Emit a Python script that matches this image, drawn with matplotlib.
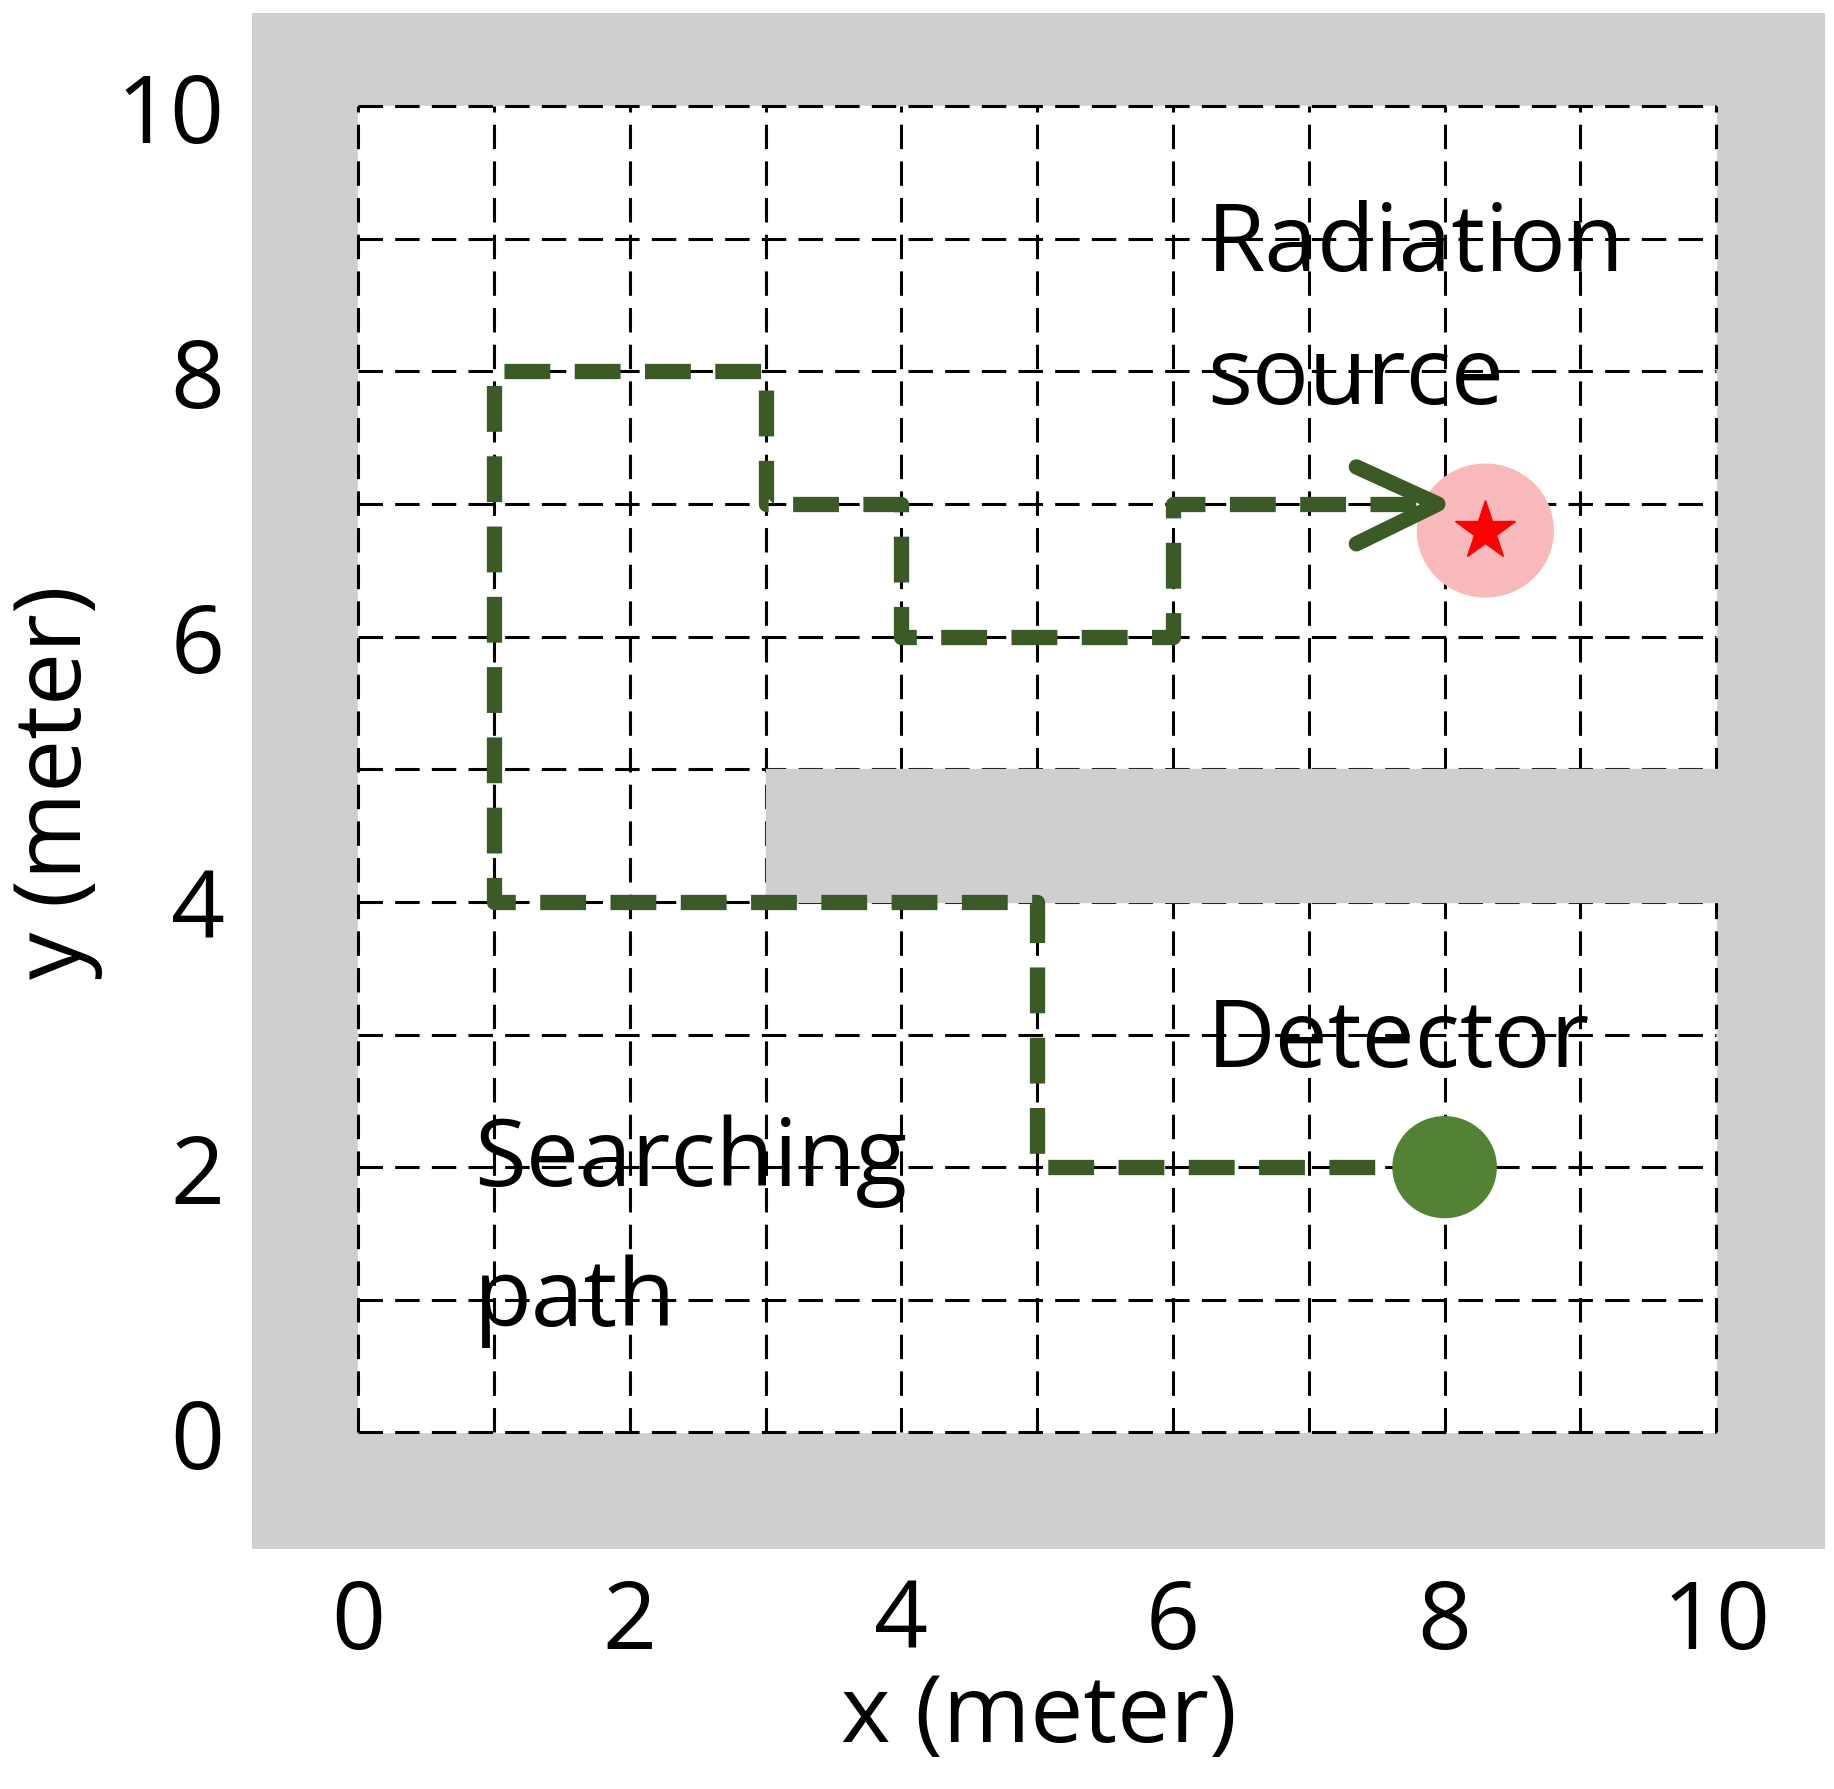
import matplotlib
matplotlib.use("Agg")
import matplotlib.pyplot as plt
from matplotlib.patches import Rectangle, Circle

path_x = [8, 5, 5, 1, 1, 3, 3, 4, 4, 6, 6, 8]
path_y = [2, 2, 4, 4, 8, 8, 7, 7, 6, 6, 7, 7]
head_x = [7.35, 7.95, 7.35]
head_y = [7.28, 7.0, 6.7]
source = (8.3, 6.8)
detector = (8, 2)
ticks = [0, 2, 4, 6, 8, 10]

plt.rcParams['font.family'] = ['Open Sans', 'DejaVu Sans']
fig = plt.figure(figsize=(18.34, 17.9), dpi=100)
ax = fig.add_axes([0.1376, 0.134, 0.8574, 0.858])
gray = '#d0cecf'
ax.set_facecolor(gray)
ax.set_xlim(-0.78, 10.8)
ax.set_ylim(-0.88, 10.7)
ax.add_patch(Rectangle((0, 0), 10, 10, color='white', zorder=0))
for spine in ax.spines.values():
    spine.set_visible(False)
for v in range(11):
    ax.plot([v, v], [0, 10], color='black', ls=(0, (8, 4)), lw=2.2, zorder=1)
    ax.plot([0, 10], [v, v], color='black', ls=(0, (8, 4)), lw=2.2, zorder=1)
ax.add_patch(Rectangle((3, 4), 7.8, 1, color=gray, zorder=1.5))
ax.plot(path_x[:-1] + [7.9], path_y, color='#3b5a26', lw=11, ls=(0, (3, 1.6)), zorder=3)
ax.plot(head_x, head_y, color='#3b5a26', lw=11, solid_capstyle='round', solid_joinstyle='round', zorder=4)
ax.add_patch(Circle(source, 0.5, color='#f7b9b9', zorder=2))
ax.plot(*source, marker='*', color='red', ms=45, zorder=5)
ax.add_patch(Circle(detector, 0.38, color='#548235', zorder=5))
fs = 68
ax.text(6.25, 8.95, 'Radiation', fontsize=fs, va='center', zorder=6)
ax.text(6.25, 7.95, 'source', fontsize=fs, va='center', zorder=6)
ax.text(6.25, 2.95, 'Detector', fontsize=fs, va='center', zorder=6)
ax.text(0.85, 2.05, 'Searching', fontsize=fs, va='center', zorder=6)
ax.text(0.85, 1.0, 'path', fontsize=fs, va='center', zorder=6)
ax.set_xticks(ticks)
ax.set_yticks(ticks)
ax.tick_params(labelsize=68, length=0, pad=20)
ax.set_xlabel('x (meter)', fontsize=68, labelpad=0)
ax.set_ylabel('y (meter)', fontsize=68, labelpad=10)
fig.savefig('out.png', dpi=100)
